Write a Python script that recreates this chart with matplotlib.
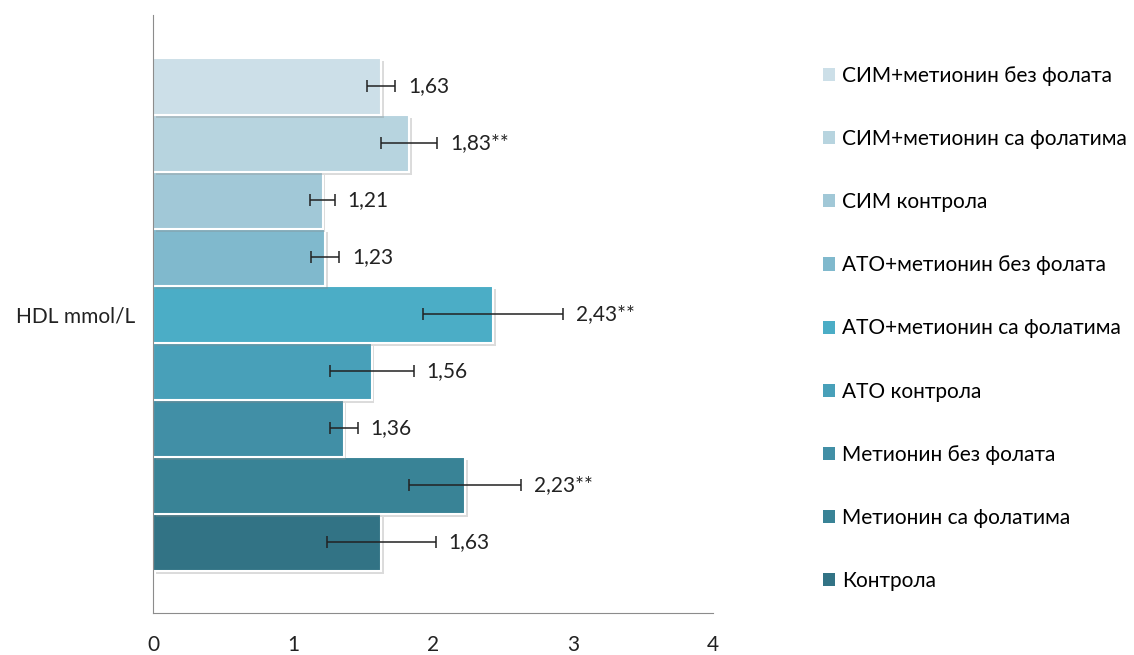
import matplotlib
matplotlib.use('Agg')
import matplotlib.pyplot as plt
import matplotlib.patheffects as pe
from matplotlib.patches import Patch

# Groups listed from bottom bar to top bar
groups = ['Контрола', 'Метионин са фолатима', 'Метионин без фолата', 'АТО контрола',
          'АТО+метионин са фолатима', 'АТО+метионин без фолата', 'СИМ контрола',
          'СИМ+метионин са фолатима', 'СИМ+метионин без фолата']
values = [1.63, 2.23, 1.36, 1.56, 2.43, 1.23, 1.21, 1.83, 1.63]
errors = [0.39, 0.40, 0.10, 0.30, 0.50, 0.10, 0.09, 0.20, 0.10]
labels = ['1,63', '2,23**', '1,36', '1,56', '2,43**', '1,23', '1,21', '1,83**', '1,63']
colors = ['#327385', '#398396', '#418FA6', '#48A0B9', '#4BADC6',
          '#80B9CD', '#A1C8D7', '#B7D4DF', '#CCDFE8']

plt.rcParams['font.family'] = ['Lato', 'DejaVu Sans']

fig = plt.figure(figsize=(11.34, 6.55), dpi=100)
ax = fig.add_axes([0.135, 0.064, 0.494, 0.913])

for i, (v, e, c) in enumerate(zip(values, errors, colors)):
    ax.barh(i, v, height=1.0, color=c, edgecolor='white', linewidth=1.5,
            path_effects=[pe.SimplePatchShadow(offset=(2, -2), alpha=0.3, shadow_rgbFace='#888888'),
                          pe.Normal()])
    ax.errorbar(v, i, xerr=e, fmt='none', ecolor='#222222',
                elinewidth=1.1, capsize=4, capthick=1.1)
    ax.annotate(labels[i], (v + e, i), xytext=(9, 0), textcoords='offset points',
                va='center', ha='left', fontsize=15, color='#222222')

ax.set_xlim(0, 4)
ax.set_ylim(-1.24, 9.25)
ax.set_xticks([0, 1, 2, 3, 4])
ax.set_yticks([4])
ax.set_yticklabels(['HDL mmol/L'])
ax.tick_params(axis='both', length=0, labelsize=15, colors='#222222')
ax.tick_params(axis='x', pad=16)
ax.tick_params(axis='y', pad=13)
for s in ['top', 'right']:
    ax.spines[s].set_visible(False)
for s in ['left', 'bottom']:
    ax.spines[s].set_color('#8c8c8c')

handles = [Patch(facecolor=c, edgecolor='none') for c in colors]
fig.legend(handles[::-1], groups[::-1], loc='upper left', bbox_to_anchor=(0.718, 0.912),
           frameon=False, fontsize=15, handlelength=0.6, handleheight=0.6,
           handletextpad=0.35, labelspacing=2.07, borderaxespad=0)

fig.savefig('out.png', dpi=100)
